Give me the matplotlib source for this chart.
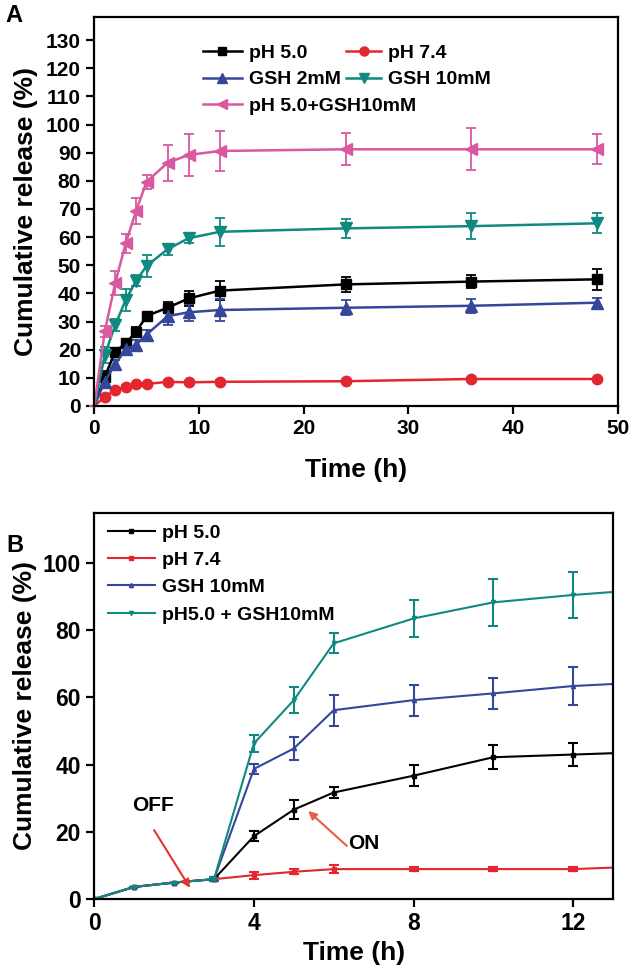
import matplotlib
matplotlib.use("Agg")
import matplotlib.pyplot as plt
from matplotlib.lines import Line2D
import numpy as np

plt.rcParams['font.family'] = ['Liberation Sans', 'DejaVu Sans']
plt.rcParams['font.weight'] = 'bold'

# ---------------- Panel A data ----------------
time_a = [0, 1, 2, 3, 4, 5, 7, 9, 12, 24, 36, 48]
ph50_a = [0, 10.4, 19.3, 22.3, 26.4, 32.0, 34.9, 38.2, 41.0, 43.2, 44.2, 45.0]
ph50_a_err = [0, 2.0, 1.2, 1.5, 1.5, 1.5, 2.0, 2.5, 3.4, 2.8, 2.3, 3.7]
ph74_a = [0, 3.3, 5.7, 6.8, 7.7, 7.8, 8.6, 8.4, 8.6, 8.8, 9.6, 9.6]
ph74_a_err = [0, 0.5, 0.5, 0.5, 0.5, 0.5, 0.5, 0.5, 0.5, 0.5, 0.5, 0.5]
gsh2_a = [0, 8.7, 14.9, 20.1, 21.8, 25.4, 31.9, 33.3, 34.1, 34.9, 35.6, 36.7]
gsh2_a_err = [0, 1.5, 1.5, 1.5, 1.5, 1.5, 3.0, 3.0, 4.0, 2.6, 2.5, 1.8]
gsh10_a = [0, 18.1, 28.8, 37.7, 44.5, 49.8, 55.7, 59.6, 61.9, 63.1, 63.9, 64.9]
gsh10_a_err = [0, 3.0, 2.0, 3.8, 1.9, 4.0, 2.0, 1.6, 5.0, 3.4, 4.7, 3.6]
combo_a = [0, 26.5, 43.7, 57.8, 69.4, 79.7, 86.4, 89.2, 90.6, 91.2, 91.2, 91.2]
combo_a_err = [0, 2.0, 4.1, 3.4, 4.6, 2.5, 6.5, 7.4, 7.0, 5.7, 7.5, 5.3]
labels_a = ["pH 5.0", "pH 7.4", "GSH 2mM", "GSH 10mM", "pH 5.0+GSH10mM"]

# ---------------- Panel B data ----------------
time_b = [0, 1, 2, 3, 4, 5, 6, 8, 10, 12, 14]
ph50_b = [0, 3.6, 4.9, 5.9, 18.7, 26.6, 31.7, 36.7, 42.2, 43.0, 43.8]
ph50_b_err = [0, 0, 0, 0.5, 1.4, 2.9, 1.6, 3.1, 3.6, 3.4, 0]
ph74_b = [0, 3.6, 4.9, 5.9, 7.1, 8.1, 8.9, 8.9, 8.9, 8.9, 9.8]
ph74_b_err = [0, 0, 0, 0.5, 1.0, 0.7, 1.2, 0.7, 0.5, 0.7, 0]
gsh10_b = [0, 3.6, 4.9, 5.9, 38.7, 44.8, 56.2, 59.2, 61.2, 63.4, 64.6]
gsh10_b_err = [0, 0, 0, 0.5, 1.6, 3.5, 4.6, 4.6, 4.7, 5.8, 0]
combo_b = [0, 3.6, 4.9, 5.9, 46.3, 59.2, 76.1, 83.5, 88.3, 90.5, 92.3]
combo_b_err = [0, 0, 0, 0.5, 2.5, 3.8, 3.0, 5.5, 6.9, 6.9, 0]
labels_b = ["pH 5.0", "pH 7.4", "GSH 10mM", "pH5.0 + GSH10mM"]

BLACK = '#000000'
RED = '#e3262f'
BLUE = '#34479c'
TEAL = '#0f8a80'
PINK = '#d9589f'

W, H = 633, 976
fig = plt.figure(figsize=(W / 100, H / 100), dpi=100)

def fx(px):
    return px / W

def fy(py):
    return 1 - py / H

axA = fig.add_axes([fx(94.3), fy(406), fx(617.7) - fx(94.3), fy(17) - fy(406)])
axB = fig.add_axes([fx(94.3), fy(899), fx(613) - fx(94.3), fy(513) - fy(899)])

for ax in (axA, axB):
    for s in ax.spines.values():
        s.set_linewidth(1.6)
    ax.tick_params(direction='out', width=1.6, length=6, top=False, right=False)

seriesA = [
    (ph50_a, ph50_a_err, BLACK, 's', 7),
    (ph74_a, ph74_a_err, RED, 'o', 7.5),
    (gsh2_a, gsh2_a_err, BLUE, '^', 8),
    (gsh10_a, gsh10_a_err, TEAL, 'v', 8),
    (combo_a, combo_a_err, PINK, '<', 8),
]
handlesA = []
for (vals, err, c, m, ms), lab in zip(seriesA, labels_a):
    axA.errorbar(time_a, vals, yerr=err, color=c, marker=m, markersize=ms,
                 markevery=slice(1, None),
                 linewidth=1.8, elinewidth=1.3, capsize=3.5, capthick=1.3,
                 clip_on=False)
    handlesA.append(Line2D([], [], color=c, marker=m, markersize=ms - 1,
                           linewidth=1.8))

axA.set_xlim(0, 50)
axA.set_ylim(0, 138.2)
axA.set_xticks(np.arange(0, 51, 10))
axA.set_yticks(np.arange(0, 131, 10))
axA.tick_params(labelsize=15)
for t in axA.get_xticklabels() + axA.get_yticklabels():
    t.set_fontweight('bold')
axA.set_xlabel("Time (h)", fontsize=19, fontweight='bold', labelpad=14)
axA.set_ylabel("Cumulative release (%)", fontsize=19, fontweight='bold', labelpad=6)

top_a = (406 - 44) / 389
leg1 = axA.legend([handlesA[0], handlesA[2], handlesA[4]],
                  [labels_a[0], labels_a[2], labels_a[4]],
                  bbox_to_anchor=((203 - 94.3) / 523.4, top_a),
                  frameon=False, loc='upper left', borderpad=0,
                  borderaxespad=0, handlelength=2.0, handletextpad=0.36,
                  labelspacing=0.47, prop={'weight': 'bold', 'size': 14})
axA.add_artist(leg1)
axA.legend([handlesA[1], handlesA[3]], [labels_a[1], labels_a[3]],
           bbox_to_anchor=((346 - 94.3) / 523.4, top_a),
           frameon=False, loc='upper left', borderpad=0,
           borderaxespad=0, handlelength=1.8, handletextpad=0.36,
           labelspacing=0.47, prop={'weight': 'bold', 'size': 14})

# Panel B
seriesB = [
    (ph50_b, ph50_b_err, BLACK, 's'),
    (ph74_b, ph74_b_err, RED, 's'),
    (gsh10_b, gsh10_b_err, BLUE, '^'),
    (combo_b, combo_b_err, TEAL, 'v'),
]
handlesB = []
for (vals, err, c, m), lab in zip(seriesB, labels_b):
    axB.errorbar(time_b, vals, yerr=err, color=c, marker=m, markersize=3,
                 linewidth=1.5, elinewidth=1.5, capsize=3.5, capthick=1.5)
    handlesB.append(Line2D([], [], color=c, marker=m, markersize=3, linewidth=1.5))

axB.set_xlim(0, 13)
axB.set_ylim(0, 114.9)
axB.set_xticks([0, 4, 8, 12])
axB.set_yticks([0, 20, 40, 60, 80, 100])
axB.tick_params(labelsize=16.5)
for t in axB.get_xticklabels() + axB.get_yticklabels():
    t.set_fontweight('bold')
axB.set_xlabel("Time (h)", fontsize=19, fontweight='bold', labelpad=4)
axB.set_ylabel("Cumulative release (%)", fontsize=19, fontweight='bold', labelpad=4)

axB.legend(handlesB, labels_b, frameon=False, loc='upper left', borderpad=0,
           borderaxespad=0, handlelength=2.4, handletextpad=0.36,
           labelspacing=0.5, prop={'weight': 'bold', 'size': 14},
           bbox_to_anchor=((108 - 94.3) / 518.7, (899 - 524) / 386))

# annotations
axB.text(1.47, 27.8, "OFF", fontsize=15, fontweight='bold', ha='center', va='center')
axB.annotate("", xy=(2.4, 3.3), xytext=(1.5, 20.5),
             arrowprops=dict(arrowstyle='-|>', color='#e5332a', lw=1.5,
                             mutation_scale=12, shrinkA=0, shrinkB=0))
axB.text(6.75, 16.4, "ON", fontsize=15, fontweight='bold', ha='center', va='center')
axB.annotate("", xy=(5.36, 26.2), xytext=(6.33, 15.8),
             arrowprops=dict(arrowstyle='-|>', color='#e8603f', lw=1.5,
                             mutation_scale=12, shrinkA=0, shrinkB=0))

fig.text(fx(5), fy(15), "A", fontsize=17, fontweight='bold', ha='left', va='center')
fig.text(fx(6), fy(546), "B", fontsize=17, fontweight='bold', ha='left', va='center')

fig.savefig("out.png", dpi=100)
